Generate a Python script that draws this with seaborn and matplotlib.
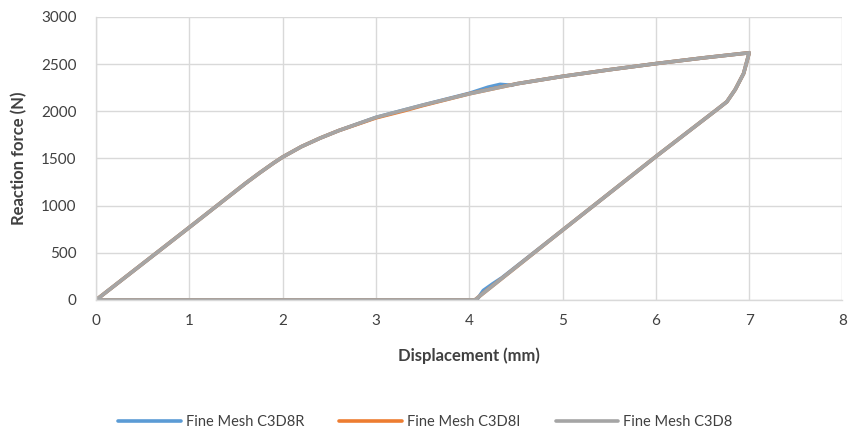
import matplotlib
matplotlib.use("Agg")
import matplotlib.pyplot as plt
import seaborn as sns
import pandas as pd

# ---- data (displacement in mm, reaction force in N) ----
series_names = ["Fine Mesh C3D8R", "Fine Mesh C3D8I", "Fine Mesh C3D8"]
colors = ["#5B9BD5", "#ED7D31", "#A5A5A5"]

x_c3d8r = [0, 1, 1.6, 1.75, 1.9, 2, 2.1, 2.2, 2.4, 2.6, 3, 3.5, 4, 4.2, 4.33, 4.45, 4.5, 5, 5.5, 6, 6.5, 7,
           6.94, 6.85, 6.76, 6.65, 6, 5, 4.35, 4.25, 4.15, 4.08, 3, 2, 1, 0]
y_c3d8r = [0, 770, 1235, 1345, 1450, 1515, 1570, 1625, 1715, 1795, 1935, 2065, 2190, 2255, 2285, 2275, 2290, 2370, 2440, 2505, 2565, 2620,
           2400, 2230, 2100, 2015, 1520, 740, 235, 170, 100, 0, 0, 0, 0, 0]

x_c3d8i = [0, 1, 1.6, 1.75, 1.9, 2, 2.1, 2.2, 2.4, 2.6, 3, 3.3, 3.5, 4, 4.5, 5, 5.5, 6, 6.5, 7,
           6.94, 6.85, 6.76, 6.65, 6, 5, 4.06, 3, 2, 1, 0]
y_c3d8i = [0, 770, 1235, 1345, 1450, 1515, 1570, 1625, 1715, 1795, 1930, 2005, 2060, 2185, 2290, 2370, 2440, 2505, 2565, 2620,
           2400, 2230, 2100, 2015, 1520, 740, 0, 0, 0, 0, 0]

x_c3d8 = [0, 1, 1.6, 1.75, 1.9, 2, 2.1, 2.2, 2.4, 2.6, 3, 3.5, 4, 4.5, 5, 5.5, 6, 6.5, 7,
          6.94, 6.85, 6.76, 6.65, 6, 5, 4.06, 3, 2, 1, 0]
y_c3d8 = [0, 770, 1235, 1345, 1450, 1515, 1570, 1625, 1715, 1795, 1935, 2065, 2185, 2290, 2370, 2440, 2505, 2565, 2620,
          2400, 2230, 2100, 2015, 1520, 740, 0, 0, 0, 0, 0]

x_ticks = [0, 1, 2, 3, 4, 5, 6, 7, 8]
y_ticks = [0, 500, 1000, 1500, 2000, 2500, 3000]

frames = []
for name, xs, ys in zip(series_names, [x_c3d8r, x_c3d8i, x_c3d8], [y_c3d8r, y_c3d8i, y_c3d8]):
    frames.append(pd.DataFrame({"Displacement": xs, "Force": ys, "Series": name}))
df = pd.concat(frames, ignore_index=True)

sns.set_theme(style="white")
plt.rcParams["font.family"] = ["Lato", "DejaVu Sans"]

fig = plt.figure(figsize=(8.51, 4.34), dpi=100)
ax = fig.add_axes([0.113, 0.309, 0.877, 0.652])

sns.lineplot(data=df, x="Displacement", y="Force", hue="Series", sort=False,
             palette=dict(zip(series_names, colors)), hue_order=series_names,
             linewidth=2.6, estimator=None, units="Series", ax=ax, legend=True)

ax.set_xlim(0, 8)
ax.set_ylim(0, 3000)
ax.set_xticks(x_ticks)
ax.set_yticks(y_ticks)
ax.set_xticklabels([str(t) for t in x_ticks], fontsize=11, color="#404040")
ax.set_yticklabels([str(t) for t in y_ticks], fontsize=11, color="#404040")
ax.tick_params(axis="x", length=0, pad=10)
ax.tick_params(axis="y", length=0, pad=14)
ax.grid(True, color="#d9d9d9", linewidth=1.0)
ax.set_axisbelow(True)
for s in ["top", "right"]:
    ax.spines[s].set_visible(False)
for s in ["left", "bottom"]:
    ax.spines[s].set_color("#d9d9d9")
    ax.spines[s].set_linewidth(1.0)

ax.set_xlabel("Displacement (mm)", fontsize=12, fontweight="bold", color="#404040", labelpad=14)
ax.set_ylabel("Reaction force (N)", fontsize=12, fontweight="bold", color="#404040", labelpad=10)

handles, labels = ax.get_legend_handles_labels()
ax.get_legend().remove()
leg = fig.legend(handles, labels, loc="center", bbox_to_anchor=(0.5, 0.028), ncol=3, frameon=False,
                 fontsize=10.5, handlelength=4.3, columnspacing=2.4, handletextpad=0.35,
                 labelcolor="#404040")
for line in leg.get_lines():
    line.set_linewidth(2.6)

fig.savefig("out.png", dpi=100)
